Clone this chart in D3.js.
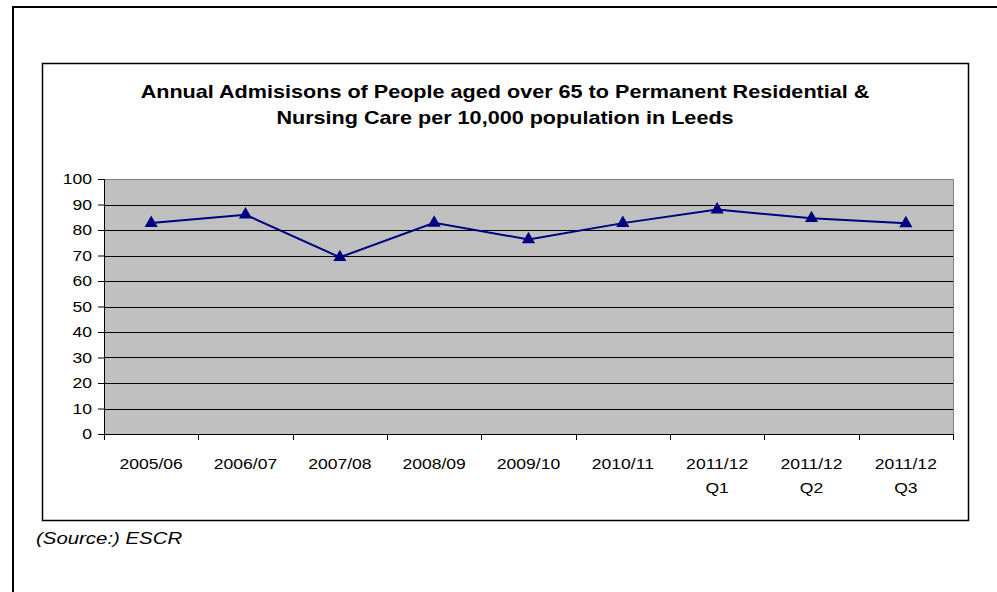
<!DOCTYPE html>
<html><head><meta charset="utf-8">
<script src="https://cdn.jsdelivr.net/npm/d3@7"></script>
<style>body{margin:0;background:#fff}svg{display:block}text{font-family:"Liberation Sans",Arial,sans-serif}</style>
</head><body>
<svg id="c" width="997" height="592"></svg>
<script>
const categories = [["2005/06"],["2006/07"],["2007/08"],["2008/09"],["2009/10"],["2010/11"],["2011/12","Q1"],["2011/12","Q2"],["2011/12","Q3"]];
const values = [82.7, 86, 69.3, 82.8, 76.3, 82.7, 88, 84.6, 82.6];
const yTicks = [0,10,20,30,40,50,60,70,80,90,100];
const titleLines = ["Annual Admisisons of People aged over 65 to Permanent Residential &","Nursing Care per 10,000 population in Leeds"];
const sourceText = "(Source:) ESCR";

const SX = 1.17; // horizontal stretch of the reference text
const svg = d3.select("#c");
// outer frame
svg.append("rect").attr("x",13).attr("y",7).attr("width",1000).attr("height",600)
  .attr("fill","none").attr("stroke","#000").attr("stroke-width",2);
// inner chart box
svg.append("rect").attr("x",42.5).attr("y",63.5).attr("width",926).attr("height",457)
  .attr("fill","#fff").attr("stroke","#000").attr("stroke-width",1.5);

const L=104, R=953, T=179, B=434;
const x = d3.scaleBand().domain(categories.map((d,i)=>i)).range([L,R]);
const y = d3.scaleLinear().domain([0,100]).range([B,T]);

svg.append("rect").attr("x",L).attr("y",T).attr("width",R-L).attr("height",B-T).attr("fill","#c0c0c0");
svg.append("g").selectAll("line").data(yTicks.filter(t=>t>0&&t<100)).join("line")
  .attr("x1",L).attr("x2",R).attr("y1",d=>Math.round(y(d))+0.5).attr("y2",d=>Math.round(y(d))+0.5)
  .attr("stroke","#000").attr("stroke-width",1);
svg.append("path").attr("d",`M${L},${T+0.5}H${R+0.5}V${B}`).attr("fill","none").attr("stroke","#808080").attr("stroke-width",1);

// y axis
const ya = svg.append("g").attr("transform",`translate(${L},0)`)
  .call(d3.axisLeft(y).tickValues(yTicks).tickSize(6).tickPadding(6));
ya.select(".domain").attr("stroke","#000");
ya.selectAll(".tick line").attr("stroke","#000");
ya.selectAll("text").attr("font-size",15).attr("fill","#000")
  .attr("font-family","Liberation Sans, Arial, sans-serif")
  .attr("x",-12/SX).attr("transform",`scale(${SX},1)`);

// x axis
const xa = svg.append("g").attr("transform",`translate(0,${B})`)
  .call(d3.axisBottom(x).tickSize(0).tickFormat(""));
xa.select(".domain").attr("stroke","#000");
const tickPos = d3.range(categories.length+1).map(i=>L+i*x.step());
svg.append("g").selectAll("line").data(tickPos).join("line")
  .attr("x1",d=>Math.round(d)+0.5).attr("x2",d=>Math.round(d)+0.5).attr("y1",B).attr("y2",B+6).attr("stroke","#000");
svg.append("g").selectAll("text").data(categories).join("text")
  .attr("transform",(d,i)=>`translate(${x(i)+x.bandwidth()/2},${B+35}) scale(${SX},1)`)
  .attr("text-anchor","middle").attr("font-size",15).attr("fill","#000")
  .each(function(d){
    const t=d3.select(this);
    d.forEach((s,j)=>t.append("tspan").attr("x",0).attr("dy",j?24:0).text(s));
  });

// line
const line = d3.line().x((d,i)=>x(i)+x.bandwidth()/2).y(d=>y(d));
svg.append("path").datum(values).attr("d",line).attr("fill","none").attr("stroke","#000080").attr("stroke-width",2);
const tri = d3.symbol().type(d3.symbolTriangle).size(75);
svg.append("g").selectAll("path").data(values).join("path")
  .attr("d",tri).attr("transform",(d,i)=>`translate(${x(i)+x.bandwidth()/2},${y(d)})`)
  .attr("fill","#000080");

// title
svg.append("g").selectAll("text").data(titleLines).join("text")
  .attr("transform",(d,i)=>`translate(505,${98+i*26}) scale(1.2,1)`).attr("text-anchor","middle")
  .attr("font-size",18).attr("font-weight","bold").attr("fill","#000").text(d=>d);

// source
svg.append("text").attr("transform",`translate(36,544) scale(1.2,1)`)
  .attr("font-size",17).attr("font-style","italic").attr("fill","#000").text(sourceText);
</script>
</body></html>
